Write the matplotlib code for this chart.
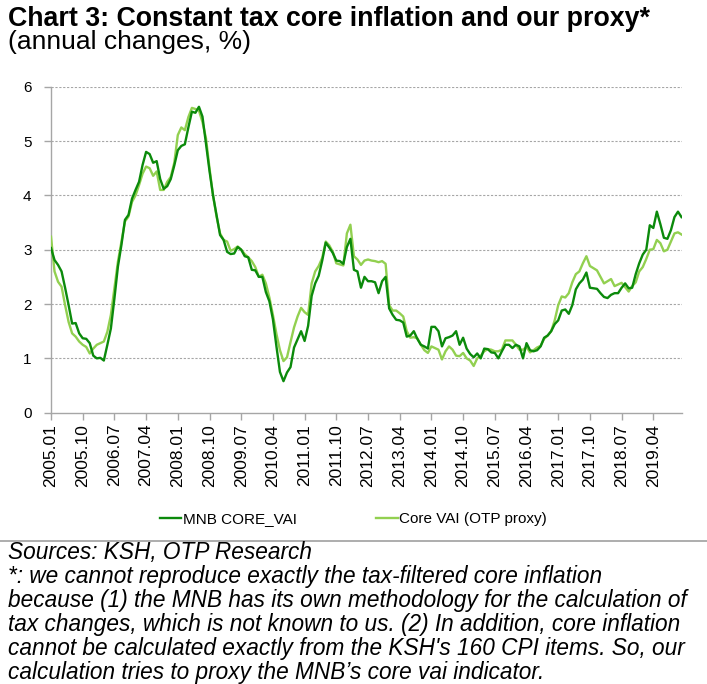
import matplotlib
matplotlib.use("Agg")
import matplotlib.pyplot as plt
import numpy as np
from matplotlib.lines import Line2D

plt.rcParams['font.family'] = ['Liberation Sans', 'DejaVu Sans']

# ---- data (monthly, 2005.01 - 2019.12) ----
start_year = 2005
n_months = 180

mnb_core_vai = [
    3.03, 2.81, 2.72, 2.60, 2.30, 1.98, 1.64, 1.65, 1.46, 1.37, 1.36, 1.28,
    1.05, 1.00, 1.01, 0.96, 1.25, 1.55, 2.10, 2.69, 3.09, 3.55, 3.64, 3.94,
    4.10, 4.25, 4.56, 4.80, 4.76, 4.60, 4.63, 4.30, 4.12, 4.17, 4.30, 4.55,
    4.83, 4.91, 4.94, 5.25, 5.54, 5.52, 5.63, 5.45, 4.95, 4.45, 4.00, 3.64,
    3.27, 3.18, 2.96, 2.92, 2.93, 3.05, 3.00, 2.88, 2.86, 2.63, 2.62, 2.50,
    2.50, 2.22, 2.05, 1.72, 1.22, 0.75, 0.58, 0.74, 0.84, 1.20, 1.35, 1.50,
    1.32, 1.60, 2.15, 2.38, 2.52, 2.80, 3.13, 3.04, 2.94, 2.80, 2.79, 2.74,
    3.05, 3.20, 2.63, 2.60, 2.30, 2.50, 2.42, 2.42, 2.40, 2.20, 2.42, 2.50,
    1.92, 1.80, 1.71, 1.70, 1.66, 1.40, 1.42, 1.50, 1.36, 1.25, 1.22, 1.18,
    1.58, 1.58, 1.50, 1.22, 1.37, 1.39, 1.42, 1.50, 1.25, 1.38, 1.18, 1.08,
    1.02, 1.09, 1.00, 1.18, 1.17, 1.11, 1.10, 1.00, 1.13, 1.25, 1.25, 1.19,
    1.25, 1.22, 1.00, 1.28, 1.15, 1.13, 1.15, 1.22, 1.38, 1.42, 1.50, 1.63,
    1.70, 1.88, 1.90, 1.82, 1.98, 2.27, 2.38, 2.45, 2.58, 2.30, 2.29, 2.28,
    2.20, 2.13, 2.11, 2.17, 2.20, 2.20, 2.30, 2.38, 2.29, 2.30, 2.55, 2.75,
    2.91, 3.00, 3.45, 3.40, 3.70, 3.47, 3.22, 3.20, 3.36, 3.60, 3.70, 3.60,
]

core_vai_otp_proxy = [
    3.24, 2.60, 2.41, 2.32, 1.98, 1.67, 1.46, 1.40, 1.31, 1.25, 1.21, 1.09,
    1.18, 1.25, 1.28, 1.31, 1.49, 1.80, 2.29, 2.78, 3.15, 3.52, 3.61, 3.88,
    4.00, 4.19, 4.40, 4.53, 4.50, 4.36, 4.44, 4.10, 4.10, 4.25, 4.34, 4.60,
    5.11, 5.25, 5.20, 5.44, 5.61, 5.59, 5.56, 5.35, 5.05, 4.50, 4.00, 3.61,
    3.30, 3.18, 3.15, 2.98, 3.01, 3.06, 3.00, 2.92, 2.86, 2.79, 2.68, 2.50,
    2.54, 2.38, 2.12, 1.80, 1.45, 1.15, 0.95, 1.02, 1.30, 1.57, 1.77, 1.93,
    1.85, 1.80, 2.38, 2.60, 2.70, 2.85, 3.15, 3.08, 2.96, 2.75, 2.73, 2.71,
    3.30, 3.46, 2.88, 2.82, 2.72, 2.80, 2.82, 2.80, 2.79, 2.77, 2.79, 2.74,
    1.98, 1.88, 1.88, 1.83, 1.77, 1.50, 1.38, 1.39, 1.37, 1.25, 1.15, 1.10,
    1.22, 1.19, 1.16, 0.98, 1.13, 1.22, 1.16, 1.05, 1.04, 1.10, 1.00, 0.96,
    0.86, 1.00, 1.05, 1.13, 1.17, 1.16, 1.13, 1.13, 1.16, 1.33, 1.33, 1.33,
    1.25, 1.16, 1.16, 1.21, 1.11, 1.15, 1.20, 1.23, 1.36, 1.42, 1.50, 1.70,
    1.98, 2.14, 2.12, 2.20, 2.40, 2.55, 2.60, 2.75, 2.88, 2.70, 2.66, 2.62,
    2.50, 2.38, 2.42, 2.46, 2.33, 2.36, 2.39, 2.31, 2.23, 2.33, 2.40, 2.60,
    2.68, 2.83, 3.00, 3.01, 3.18, 3.12, 2.97, 3.00, 3.15, 3.30, 3.32, 3.28,
]

series_names = ["MNB CORE_VAI", "Core VAI (OTP proxy)"]
tick_step = 9
y_ticks = [0, 1, 2, 3, 4, 5, 6]

month_labels = [f"{start_year + k // 12}.{k % 12 + 1:02d}" for k in range(n_months)]

title = "Chart 3: Constant tax core inflation and our proxy*"
subtitle = "(annual changes, %)"
footer = [
    "Sources: KSH, OTP Research",
    "*: we cannot reproduce exactly the tax-filtered core inflation",
    "because (1) the MNB has its own methodology for the calculation of",
    "tax changes, which is not known to us. (2) In addition, core inflation",
    "cannot be calculated exactly from the KSH's 160 CPI items. So, our",
    "calculation tries to proxy the MNB\u2019s core vai indicator.",
]

# ---- figure ----
W, H = 707, 684
fig = plt.figure(figsize=(W / 100, H / 100), dpi=100)
ax = fig.add_axes([51 / W, 1 - 412.7 / H, (681.5 - 51) / W, (412.7 - 86.7) / H])

x = np.arange(n_months)
dark = "#0B8A0B"
light = "#92D050"
ax.plot(x, core_vai_otp_proxy, color=light, lw=1.7, label=series_names[1], zorder=3)
ax.plot(x, mnb_core_vai, color=dark, lw=1.7, label=series_names[0], zorder=4)

ax.set_xlim(0, n_months - 1)
ax.set_ylim(0, 6)
ax.set_yticks(y_ticks)
ax.set_yticklabels([str(v) for v in y_ticks], fontsize=11)
tick_pos = list(range(0, n_months, tick_step))
ax.set_xticks(tick_pos)
ax.set_xticklabels([month_labels[p] for p in tick_pos], rotation=90, fontsize=12.5)

for v in y_ticks[1:]:
    ax.axhline(v, color="#A6A6A6", lw=0.8, ls=(0, (2, 1.5)), zorder=1)

for s in ["top", "right"]:
    ax.spines[s].set_visible(False)
for s in ["left", "bottom"]:
    ax.spines[s].set_color("#A6A6A6")
    ax.spines[s].set_linewidth(1.0)
ax.tick_params(axis="both", colors="#A6A6A6", labelcolor="black", length=5, width=1.0)
ax.tick_params(axis="y", pad=9)
ax.tick_params(axis="x", pad=3)

handles, labels = ax.get_legend_handles_labels()
order = [1, 0]
fig.legend([handles[i] for i in order], [labels[i] for i in order],
           loc="center", bbox_to_anchor=(0.5, 1 - 519 / H), ncol=2, frameon=False,
           fontsize=11, handlelength=1.4, handletextpad=0.1, columnspacing=5.2)

fig.text(8 / W, 1 - 19 / H, title, fontsize=19.3, fontweight="bold", va="center", ha="left")
fig.text(8 / W, 1 - 42 / H, subtitle, fontsize=19, va="center", ha="left")

# separator line above the footer
fig.add_artist(Line2D([0, 1], [1 - 541 / H, 1 - 541 / H], transform=fig.transFigure,
                      color="#A0A0A0", lw=1.2))

for k, line in enumerate(footer):
    fig.text(8 / W, 1 - (553 + 24 * k) / H, line, fontsize=16.3, style="italic",
             va="center", ha="left")

fig.savefig("out.png", dpi=100)
